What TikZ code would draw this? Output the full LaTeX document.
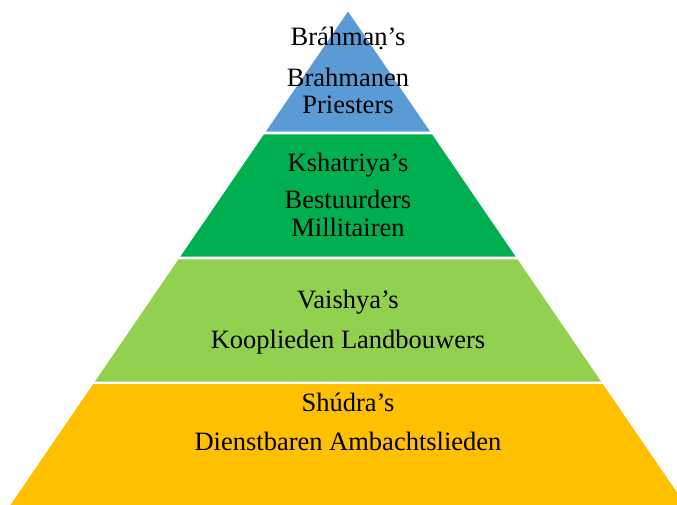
\documentclass[tikz,border=0pt]{standalone}
\usepackage{fontspec}
\setmainfont{Liberation Serif}
\definecolor{cblue}{HTML}{5B9BD5}
\definecolor{cgreen}{HTML}{00B050}
\definecolor{clime}{HTML}{92D050}
\definecolor{cgold}{HTML}{FFC000}
\begin{document}
\begin{tikzpicture}[x=1pt,y=-1pt,
  lbl/.style={anchor=base,inner sep=0pt,font=\fontsize{26.5}{28}\selectfont,text=black}]
\useasboundingbox (0,0) rectangle (677,504);
\clip (0,0) rectangle (677,504);
% layers
\fill[cblue]  (348,11.5) -- (430.2,131.7) -- (265.8,131.7) -- cycle;
\fill[cgreen] (264.0,134.3) -- (432.0,134.3) -- (515.7,256.7) -- (180.3,256.7) -- cycle;
\fill[clime]  (178.5,259.3) -- (517.5,259.3) -- (601.2,381.7) -- (94.8,381.7) -- cycle;
\fill[cgold]  (93.2,384) -- (602.8,384) -- (689,510) -- (7,510) -- cycle;
% texts
\node[lbl] (b1) at (348,45) {Bráhmaṇ’s};
\node[lbl] (b2) at (348,86) {Brahmanen};
\node[lbl] (b3) at (348,113.3) {Priesters};
\node[lbl] (k1) at (348,171.7) {Kshatriya’s};
\node[lbl] (k2) at (348,208.3) {Bestuurders};
\node[lbl] (k3) at (348,236.7) {Millitairen};
\node[lbl] (v1) at (348,308.3) {Vaishya’s};
\node[lbl] (v2) at (348,348) {Kooplieden Landbouwers};
\node[lbl] (s1) at (348,411.7) {Shúdra’s};
\node[lbl] (s2) at (348,450) {Dienstbaren Ambachtslieden};
\end{tikzpicture}
\end{document}
